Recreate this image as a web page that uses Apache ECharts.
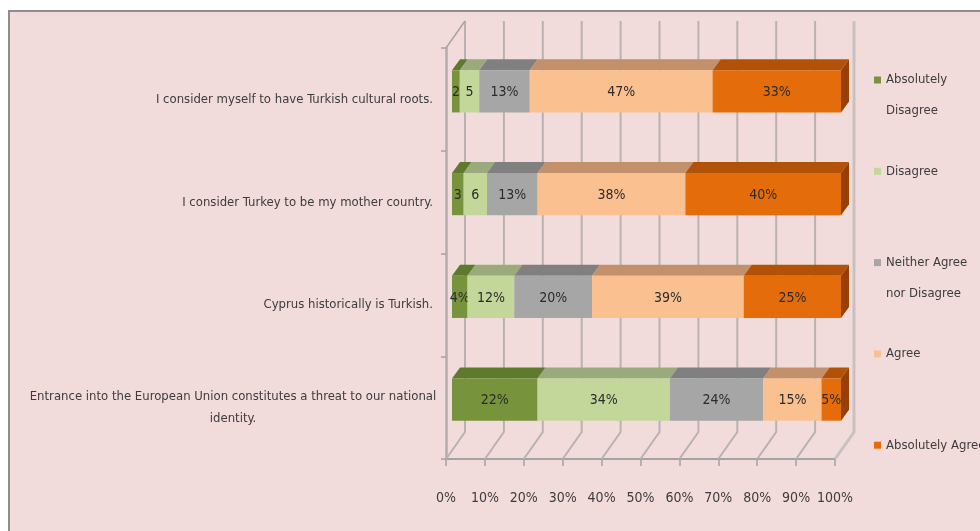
<!DOCTYPE html>
<html>
<head>
<meta charset="utf-8">
<script src="https://cdn.jsdelivr.net/npm/echarts@6/dist/echarts.min.js"></script>
<style>
html,body{margin:0;padding:0;background:#fff;}
#chart{width:980px;height:531px;}
</style>
</head>
<body>
<div id="chart"></div>
<script>
// ---- data ----
const categories = [
  "I consider myself to have Turkish cultural roots.",
  "I consider Turkey to be my mother country.",
  "Cyprus historically is Turkish.",
  "Entrance into the European Union constitutes a threat to our national\nidentity."
];
const seriesNames = ["Absolutely Disagree", "Disagree", "Neither Agree nor Disagree", "Agree", "Absolutely Agree"];
const legendLabels = ["Absolutely\nDisagree", "Disagree", "Neither Agree\nnor Disagree", "Agree", "Absolutely Agree"];
const absolutelyDisagree = [2, 3, 4, 22];
const disagree = [5, 6, 12, 34];
const neitherAgreeNorDisagree = [13, 13, 20, 24];
const agree = [47, 38, 39, 15];
const absolutelyAgree = [33, 40, 25, 5];
// label suffix shown in the bar (the original truncated some labels)
const absolutelyDisagreeSuffix = ["", "", "%", "%"];
const disagreeSuffix = ["", "", "%", "%"];
const xTicks = [0, 10, 20, 30, 40, 50, 60, 70, 80, 90, 100];

// ---- styling ----
const FONT = "'Liberation Sans Narrow', 'DejaVu Sans Condensed', 'Open Sans', sans-serif";
const frontColors = ["#77933c", "#c4d79b", "#a6a6a6", "#fac090", "#e46c0a"];
const topColors = ["#5e7a2c", "#9aaa7a", "#808080", "#c2916c", "#b25208"];
const sideColor = "#973f04";
const allValues = [absolutelyDisagree, disagree, neitherAgreeNorDisagree, agree, absolutelyAgree];
const allSuffix = [absolutelyDisagreeSuffix, disagreeSuffix, null, null, null];

// wall depth and bar depth
const WALL_DX = 19, WALL_DY = -27;
const BAR_OX = 6, BAR_OY = -8, BAR_DX = 8, BAR_DY = -11;

function buildSeriesData(s) {
  return categories.map((c, i) => {
    let start = 0;
    for (let k = 0; k < s; k++) start += allValues[k][i];
    return [start, allValues[s][i], i];
  });
}

const gridSeries = {
  type: 'custom',
  name: '__grid',
  silent: true,
  z: 1,
  data: xTicks.map(v => [v, 0]),
  encode: { x: 0, y: 1 },
  renderItem: function (params, api) {
    const cs = params.coordSys;
    const x = api.coord([api.value(0), 0])[0];
    const floorY = cs.y + cs.height;
    const last = params.dataIndex === xTicks.length - 1;
    const children = [
      { type: 'polyline', shape: { points: [[x, floorY], [x + WALL_DX, floorY + WALL_DY], [x + WALL_DX, cs.y + WALL_DY]] },
        style: { stroke: last ? '#c9c1c1' : '#b9b1b1', lineWidth: last ? 3 : 2, fill: null } }
    ];
    if (params.dataIndex === 0) {
      children.push({ type: 'line', shape: { x1: x, y1: cs.y, x2: x + WALL_DX, y2: cs.y + WALL_DY },
        style: { stroke: '#a9a3a3', lineWidth: 1.5 } });
    }
    return { type: 'group', children: children };
  }
};

const barSeries = seriesNames.map((name, s) => ({
  type: 'custom',
  name: name,
  z: 3 + s,
  itemStyle: { color: frontColors[s] },
  data: buildSeriesData(s),
  encode: { x: [0, 1], y: 2 },
  renderItem: function (params, api) {
    const start = api.value(0), val = api.value(1), cat = api.value(2);
    const p0 = api.coord([start, cat]);
    const p1 = api.coord([start + val, cat]);
    const band = api.size([0, 1])[1];
    const h = band * 0.41;
    const x0 = p0[0] + BAR_OX, x1 = p1[0] + BAR_OX;
    const yTop = p0[1] + BAR_OY - h / 2, yBot = yTop + h;
    const suffix = allSuffix[s] ? allSuffix[s][params.dataIndex] : "%";
    const children = [
      { type: 'polygon', shape: { points: [[x0, yTop], [x0 + BAR_DX, yTop + BAR_DY], [x1 + BAR_DX, yTop + BAR_DY], [x1, yTop]] },
        style: { fill: topColors[s] } },
      { type: 'rect', shape: { x: x0, y: yTop, width: x1 - x0, height: h }, style: { fill: frontColors[s] } }
    ];
    if (s === seriesNames.length - 1) {
      children.push({ type: 'polygon', shape: { points: [[x1, yTop], [x1 + BAR_DX, yTop + BAR_DY], [x1 + BAR_DX, yBot + BAR_DY], [x1, yBot]] },
        style: { fill: sideColor } });
    }
    children.push({ type: 'text', style: { text: val + suffix, x: (x0 + x1) / 2, y: (yTop + yBot) / 2 + 1,
      align: 'center', verticalAlign: 'middle', fill: '#2b2b2b', font: '14px ' + FONT } });
    return { type: 'group', children: children };
  }
}));

const legends = seriesNames.map((name, i) => {
  const lines = legendLabels[i].split('\n').length;
  const lh = 31;
  const shown = lines > 1 ? '\n' + legendLabels[i] : legendLabels[i];
  const nLines = shown.split('\n').length;
  const iconY = 75 + i * 91.3;
  return {
    orient: 'vertical',
    left: 869,
    top: iconY - nLines * lh / 2,
    data: [name],
    icon: 'rect',
    itemWidth: 7,
    itemHeight: 7,
    selectedMode: false,
    formatter: () => shown,
    textStyle: { fontFamily: FONT, fontSize: 13, color: '#3c3c3c', lineHeight: lh }
  };
});

const option = {
  backgroundColor: '#ffffff',
  animation: false,
  graphic: { elements: [
    { type: 'rect', z: -100, silent: true, shape: { x: 9, y: 11, width: 1100, height: 700 },
      style: { fill: '#f2dcdb', stroke: '#8e8e8e', lineWidth: 2 } }
  ] },
  legend: legends,
  grid: { left: 446, top: 48, width: 389, height: 411, containLabel: false },
  xAxis: {
    type: 'value', min: 0, max: 100, interval: 10,
    axisLine: { show: true, lineStyle: { color: '#a3a3a3', width: 2 } },
    axisTick: { show: true, length: 7, lineStyle: { color: '#a3a3a3', width: 1.5 } },
    splitLine: { show: false },
    axisLabel: { margin: 32, formatter: '{value}%', fontFamily: FONT, fontSize: 14, color: '#3c3c3c' }
  },
  yAxis: {
    type: 'category', inverse: true, data: categories,
    axisLine: { show: true, lineStyle: { color: '#b3abab', width: 2.5 } },
    axisTick: { show: true, length: 5, lineStyle: { color: '#a3a3a3', width: 1.5 } },
    axisLabel: {
      margin: 13, fontFamily: FONT, fontSize: 13, color: '#3c3c3c', lineHeight: 22,
      formatter: function (v) {
        const parts = v.split('\n');
        if (parts.length === 1) return '{r|' + v + '}';
        return parts.map(p => '{c|' + p + '}').join('\n');
      },
      rich: {
        r: { fontFamily: FONT, fontSize: 13, color: '#3c3c3c' },
        c: { fontFamily: FONT, fontSize: 13, color: '#3c3c3c', width: 400, align: 'center', lineHeight: 22 }
      }
    }
  },
  series: [gridSeries].concat(barSeries)
};

const chart = echarts.init(document.getElementById('chart'), null, { renderer: 'canvas' });
chart.setOption(option);
</script>
</body>
</html>
